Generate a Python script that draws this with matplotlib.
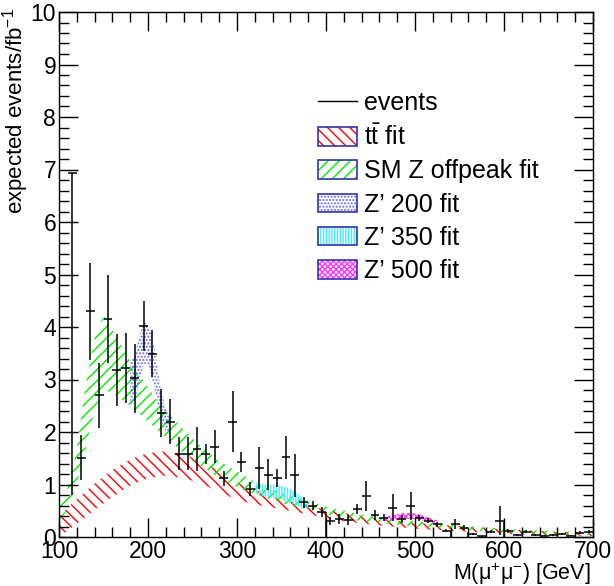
import numpy as np
import matplotlib
matplotlib.use("Agg")
import matplotlib.pyplot as plt
from matplotlib.patches import Patch
from matplotlib.lines import Line2D
from matplotlib.ticker import MultipleLocator

plt.rcParams['font.family'] = ['Liberation Sans', 'DejaVu Sans']
plt.rcParams['mathtext.fontset'] = 'custom'
plt.rcParams['mathtext.rm'] = 'Liberation Sans'
plt.rcParams['mathtext.it'] = 'Liberation Sans:italic'
plt.rcParams['hatch.linewidth'] = 1.0

# ── data: events (10 GeV bins) ───────────────────
bin_centers = np.arange(115, 700, 10)
events = [6.93, 1.51, 4.30, 2.70, 4.16, 3.18, 3.22, 3.02, 4.02, 3.49,
          2.36, 2.20, 1.59, 1.59, 1.68, 1.59, 1.72, 1.12, 2.20, 1.43,
          0.91, 1.31, 1.19, 1.12, 1.52, 1.18, 0.66, 0.60, 0.48, 0.31,
          0.34, 0.32, 0.53, 0.78, 0.42, 0.37, 0.56, 0.34, 0.59, 0.36,
          0.31, 0.24, 0.12, 0.25, 0.18, 0.05, 0.01, 0.10, 0.31, 0.11,
          0.04, 0.10, 0.04, 0.02, 0.04, 0.06, 0.02, 0.08, 0.10]
err_lo = [6.13, 0.43, 0.92, 0.62, 0.84, 0.68, 0.66, 0.65, 0.47, 0.45,
          0.46, 0.43, 0.32, 0.32, 0.42, 0.19, 0.31, 0.14, 0.58, 0.19,
          0.13, 0.40, 0.29, 0.17, 0.41, 0.41, 0.11, 0.09, 0.10, 0.08,
          0.10, 0.09, 0.09, 0.29, 0.10, 0.07, 0.26, 0.08, 0.27, 0.06,
          0.05, 0.05, 0.03, 0.09, 0.04, 0.02, 0.01, 0.03, 0.28, 0.04,
          0.02, 0.03, 0.02, 0.01, 0.02, 0.02, 0.01, 0.03, 0.03]
err_hi = [0.00] + err_lo[1:]
# stray histogram edges drawn down to zero
edge_x = [400, 540, 560, 600]
edge_y = [0.48, 0.12, 0.10, 0.28]

# ── fit bands ────────────────────────────────────
tt_x  = [100, 120, 140, 160, 180, 200, 220, 240, 260, 280, 300, 320, 340,
         360, 380, 400, 420, 440, 460, 480, 500, 540, 580, 620, 660, 700]
tt_up = [0.40, 0.72, 1.02, 1.28, 1.48, 1.60, 1.63, 1.57, 1.45, 1.25, 1.04,
         0.90, 0.76, 0.68, 0.60, 0.52, 0.46, 0.40, 0.35, 0.31, 0.27, 0.22,
         0.17, 0.13, 0.10, 0.08]
tt_lo = [0.00, 0.25, 0.52, 0.76, 0.98, 1.12, 1.17, 1.12, 1.02, 0.86, 0.71,
         0.62, 0.56, 0.50, 0.43, 0.36, 0.30, 0.26, 0.22, 0.19, 0.16, 0.12,
         0.08, 0.05, 0.03, 0.02]

z_x  = [100, 110, 120, 130, 140, 150, 160, 170, 180, 190, 200, 210, 220,
        240, 260, 280, 300, 320, 340, 360, 380, 400, 420, 440, 460, 480,
        500, 540, 580, 620, 660, 700]
z_up = [0.55, 0.95, 1.70, 2.90, 3.80, 4.22, 3.95, 3.65, 3.35, 3.10, 2.85,
        2.60, 2.40, 2.05, 1.72, 1.45, 1.25, 1.05, 0.90, 0.78, 0.68, 0.58,
        0.50, 0.43, 0.38, 0.34, 0.30, 0.24, 0.18, 0.14, 0.11, 0.09]
z_lo = [0.25, 0.55, 1.00, 1.70, 2.40, 2.80, 2.75, 2.62, 2.50, 2.35, 2.20,
        2.05, 1.90, 1.60, 1.35, 1.12, 0.95, 0.82, 0.70, 0.60, 0.52, 0.44,
        0.35, 0.30, 0.27, 0.23, 0.20, 0.16, 0.11, 0.07, 0.05, 0.04]

zp200_x  = [180, 185, 190, 195, 200, 205, 210, 215, 220, 225]
zp200_up = [3.35, 3.45, 3.80, 4.10, 4.05, 3.80, 3.30, 2.75, 2.45, 2.30]
zp200_lo = [2.50, 2.60, 2.90, 3.30, 3.30, 3.00, 2.60, 2.20, 2.00, 1.95]

zp350_x  = [320, 330, 340, 350, 360, 370, 380]
zp350_up = [1.05, 1.00, 1.00, 0.98, 0.92, 0.80, 0.68]
zp350_lo = [0.82, 0.78, 0.75, 0.72, 0.65, 0.58, 0.52]

zp500_x  = [465, 475, 485, 495, 505, 515, 525]
zp500_up = [0.38, 0.42, 0.45, 0.46, 0.43, 0.37, 0.32]
zp500_lo = [0.30, 0.32, 0.34, 0.35, 0.33, 0.29, 0.25]

# ── figure ───────────────────────────────────────
W, H = 614, 586
fig = plt.figure(figsize=(W / 100, H / 100), dpi=100)
ax = fig.add_axes([59 / W, 1 - 537 / H, (593 - 59) / W, (537 - 12) / H])

bands = [
    (tt_x, tt_lo, tt_up, 'red', '\\\\\\'),
    (z_x, z_lo, z_up, '#00ee00', '///'),
    (zp200_x, zp200_lo, zp200_up, '#6666ff', '.....'),
    (zp350_x, zp350_lo, zp350_up, '#44eeff', '||||||'),
    (zp500_x, zp500_lo, zp500_up, '#ff33ff', 'xxxxxx'),
]
for bx, blo, bup, col, hatch in bands:
    ax.fill_between(bx, blo, bup, facecolor='none', edgecolor=col,
                    hatch=hatch, linewidth=0)

ax.errorbar(bin_centers, events, yerr=[err_lo, err_hi], xerr=5, fmt='none',
            ecolor='black', elinewidth=1.1, capsize=0)
ax.vlines(edge_x, 0, edge_y, color='black', lw=1.1)

ax.set_xlim(100, 700)
ax.set_ylim(0, 10)
ax.xaxis.set_major_locator(MultipleLocator(100))
ax.xaxis.set_minor_locator(MultipleLocator(20))
ax.yaxis.set_major_locator(MultipleLocator(1))
ax.yaxis.set_minor_locator(MultipleLocator(0.2))
ax.tick_params(which='both', direction='in', top=True, right=True,
               labelsize=16.5, width=1)
ax.tick_params(which='major', length=14)
ax.tick_params(which='minor', length=7)
ax.tick_params(axis='x', pad=2)
ax.tick_params(axis='y', pad=2)
for s in ax.spines.values():
    s.set_linewidth(1)

fig.text(16 / W, 1 - 8 / H, r'expected events/fb$^{\mathregular{-1}}$',
         rotation=90, ha='center', va='top', fontsize=16)
fig.text(591 / W, 1 - 574 / H, r'M($\mathregular{\mu^{+}\mu^{-}}$) [GeV]',
         ha='right', va='center', fontsize=15.5)

# ── legend ───────────────────────────────────────
border = '#3333aa'
names = [r'$\mathregular{t\bar{t}}$ fit', 'SM Z offpeak fit', 'Z\u2019 200 fit',
         'Z\u2019 350 fit', 'Z\u2019 500 fit']
handles = [Line2D([], [], color='black', lw=1)]
for (_, _, _, col, hatch) in bands:
    handles.append((Patch(facecolor='none', edgecolor=col, hatch=hatch, lw=0),
                    Patch(facecolor='none', edgecolor=border, lw=1.2)))
leg = ax.legend(handles, ['events'] + names, loc='upper left',
                bbox_to_anchor=(318 / W, 1 - 91 / H),
                bbox_transform=fig.transFigure, frameon=False, fontsize=18,
                handlelength=1.55, handleheight=0.75, handletextpad=0.3,
                labelspacing=0.37, borderpad=0, borderaxespad=0)

fig.savefig('out.png', dpi=100)
